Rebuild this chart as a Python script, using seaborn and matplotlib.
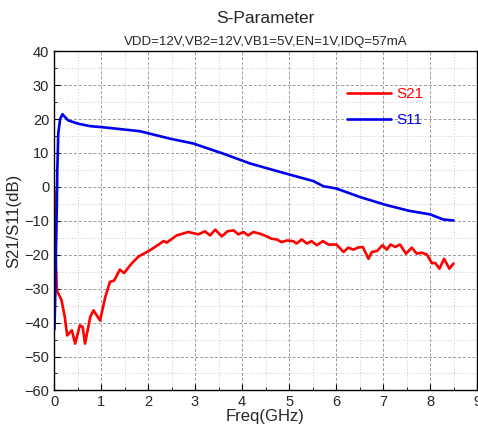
import numpy as np
import pandas as pd
import seaborn as sns
import matplotlib.pyplot as plt
from matplotlib.ticker import MultipleLocator

# values
freq_s21 = [0.01, 0.03, 0.06, 0.16, 0.23, 0.28, 0.33, 0.38, 0.45, 0.55, 0.61, 0.66, 0.77, 0.84,
            0.98, 1.09, 1.19, 1.28, 1.40, 1.49, 1.65, 1.80, 2.04, 2.15, 2.33, 2.40, 2.61, 2.86,
            3.07, 3.21, 3.32, 3.43, 3.57, 3.69, 3.82, 3.92, 4.03, 4.13, 4.24, 4.38, 4.53, 4.63,
            4.74, 4.84, 4.95, 5.09, 5.16, 5.27, 5.38, 5.48, 5.59, 5.72, 5.84, 6.01, 6.16, 6.26,
            6.37, 6.47, 6.57, 6.69, 6.76, 6.87, 6.99, 7.08, 7.16, 7.26, 7.36, 7.49, 7.61, 7.72,
            7.82, 7.93, 8.04, 8.11, 8.20, 8.30, 8.41, 8.50]
s21 = [-1.0, -18.0, -30.5, -33.4, -38.4, -43.8, -43.0, -42.3, -46.2, -40.8, -41.3, -46.2, -38.4, -36.4,
       -39.4, -32.5, -28.0, -27.6, -24.4, -25.4, -22.6, -20.5, -18.7, -17.7, -16.0, -16.4, -14.3, -13.3,
       -14.0, -13.1, -14.3, -12.6, -14.6, -13.1, -12.8, -14.0, -13.3, -14.3, -13.3, -13.8, -14.6, -15.3,
       -15.5, -16.3, -15.8, -16.0, -16.7, -15.5, -16.7, -16.0, -17.2, -16.0, -17.0, -17.0, -19.2, -17.9,
       -18.5, -17.9, -17.7, -21.2, -19.2, -18.9, -17.2, -18.5, -17.0, -17.7, -17.0, -19.7, -17.9, -19.7,
       -19.4, -19.9, -22.5, -22.4, -24.1, -21.2, -24.1, -22.6]

freq_s11 = [0.01, 0.03, 0.04, 0.06, 0.07, 0.08, 0.09, 0.13, 0.18, 0.30, 0.52, 0.77, 1.09, 1.83,
            2.47, 2.96, 3.60, 4.17, 4.81, 5.02, 5.52, 5.73, 6.01, 6.51, 7.08, 7.57, 8.00, 8.28, 8.50]
s11 = [-42.0, -30.0, -20.0, -6.0, 5.0, 10.0, 15.7, 20.0, 21.4, 19.6, 18.6, 17.9, 17.5, 16.4,
       14.2, 12.8, 9.8, 6.9, 4.4, 3.6, 1.7, 0.2, -0.5, -3.0, -5.4, -7.1, -8.1, -9.6, -9.9]

df21 = pd.DataFrame({"Freq": freq_s21, "dB": s21})
df11 = pd.DataFrame({"Freq": freq_s11, "dB": s11})

sns.set_style("ticks")
plt.rcParams['font.family'] = ['Liberation Sans', 'DejaVu Sans']

fig = plt.figure(figsize=(4.78, 4.30), dpi=100)
ax = fig.add_axes([0.113, 0.092, 0.885, 0.789])

sns.lineplot(x="Freq", y="dB", data=df21, color="#ff0000", linewidth=1.9, label="S21", ax=ax)
sns.lineplot(x="Freq", y="dB", data=df11, color="#0000ee", linewidth=1.9, label="S11", ax=ax)

ax.set_xlim(0, 9)
ax.set_ylim(-60, 40)
ax.xaxis.set_major_locator(MultipleLocator(1))
ax.xaxis.set_minor_locator(MultipleLocator(0.5))
ax.yaxis.set_major_locator(MultipleLocator(10))
ax.yaxis.set_minor_locator(MultipleLocator(5))
ax.grid(which="major", color="#9a9a9a", linestyle=(0, (3, 2)), linewidth=0.7)
ax.grid(which="minor", color="#c8c8c8", linestyle=(0, (1, 2)), linewidth=0.7)
ax.tick_params(which="both", direction="in", labelsize=10.5, color="black")
ax.tick_params(which="major", length=4)
ax.tick_params(which="minor", length=2.5)
for s in ax.spines.values():
    s.set_color("black")
    s.set_linewidth(1.0)

ax.set_xlabel("Freq(GHz)", size=12, labelpad=0)
ax.set_ylabel("S21/S11(dB)", size=12, labelpad=2)

leg = ax.legend(loc="upper right", bbox_to_anchor=(0.905, 0.935), frameon=False,
                fontsize=11, handlelength=2.9, handletextpad=0.3, labelspacing=0.8)
for t, c in zip(leg.get_texts(), ["#ff0000", "#0000ee"]):
    t.set_color(c)

fig.text(0.555, 0.958, "S-Parameter", ha="center", va="center", fontsize=12.5)
fig.text(0.555, 0.902, "VDD=12V,VB2=12V,VB1=5V,EN=1V,IDQ=57mA", ha="center", va="center", fontsize=9.5)

fig.savefig("out.png", dpi=100)
